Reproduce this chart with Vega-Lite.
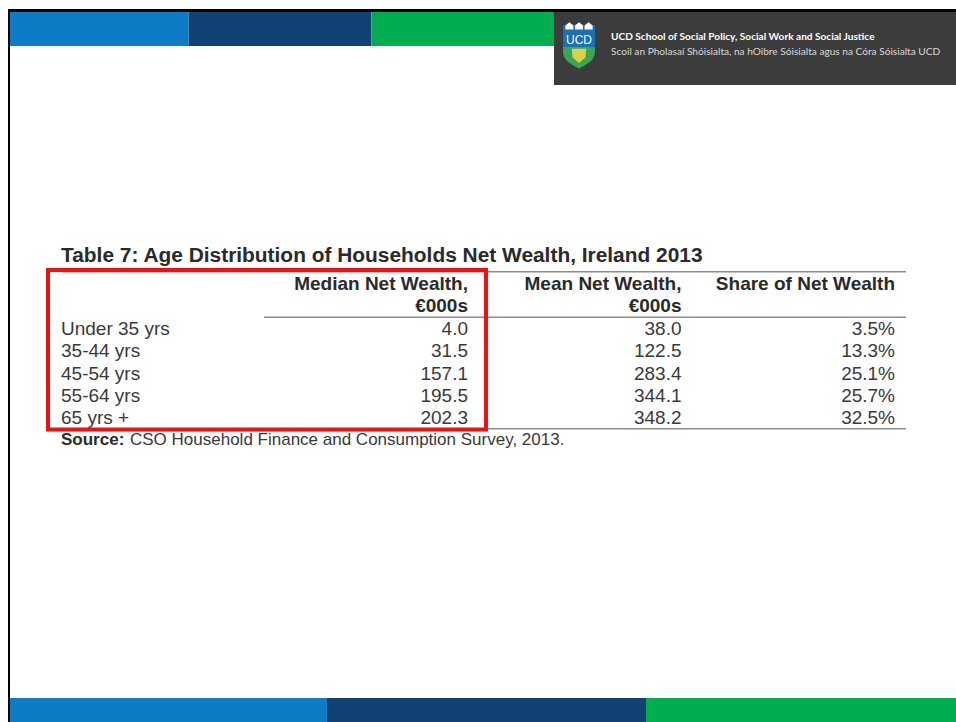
{"$schema":"https://vega.github.io/schema/vega-lite/v6.json","width":956,"height":722,"padding":0,"autosize":"none","background":"#ffffff","config":{"view":{"stroke":null},"axis":{"disable":true},"legend":{"disable":true},"text":{"font":"Liberation Sans"}},"resolve":{"scale":{"x":"independent","y":"independent","color":"independent","shape":"independent"}},"layer":[
{"data":{"values":[{"band":"blue","slot":"top"},{"band":"navy","slot":"top"},{"band":"green","slot":"top"}]},"mark":{"type":"rect"},"encoding":{"x":{"field":"band","type":"nominal","sort":null,"scale":{"type":"band","domain":["blue","navy","green"],"range":[6,554],"padding":0}},"y":{"field":"slot","type":"nominal","scale":{"type":"band","domain":["top"],"range":[12,46],"padding":0}},"color":{"field":"band","type":"nominal","scale":{"domain":["blue","navy","green"],"range":["#0d7cc4","#124174","#00ae4f"]}}}},
{"data":{"values":[{"band":"blue","slot":"bottom"},{"band":"navy","slot":"bottom"},{"band":"green","slot":"bottom"}]},"mark":{"type":"rect"},"encoding":{"x":{"field":"band","type":"nominal","sort":null,"scale":{"type":"band","domain":["blue","navy","green"],"range":[8,965],"padding":0}},"y":{"field":"slot","type":"nominal","scale":{"type":"band","domain":["bottom"],"range":[698,722],"padding":0}},"color":{"field":"band","type":"nominal","scale":{"domain":["blue","navy","green"],"range":["#0d7cc4","#124174","#00ae4f"]}}}},
{"data":{"values":[{"part":"margin"}]},"mark":{"type":"rect","color":"#ffffff"},"encoding":{"x":{"field":"part","type":"nominal","scale":{"type":"band","domain":["margin"],"range":[0,8],"padding":0}},"y":{"field":"part","type":"nominal","scale":{"type":"band","domain":["margin"],"range":[0,722],"padding":0}}}},
{"data":{"values":[{"part":"panel"}]},"mark":{"type":"rect","color":"#3c3c3c"},"encoding":{"x":{"field":"part","type":"nominal","scale":{"type":"band","domain":["panel"],"range":[554,956],"padding":0}},"y":{"field":"part","type":"nominal","scale":{"type":"band","domain":["panel"],"range":[12,85],"padding":0}}}},
{"data":{"values":[{"part":"frame top"}]},"mark":{"type":"rect","color":"#000000"},"encoding":{"x":{"field":"part","type":"nominal","scale":{"type":"band","domain":["frame top"],"range":[8,956],"padding":0}},"y":{"field":"part","type":"nominal","scale":{"type":"band","domain":["frame top"],"range":[9,12],"padding":0}}}},
{"data":{"values":[{"part":"frame left"}]},"mark":{"type":"rect","color":"#000000"},"encoding":{"x":{"field":"part","type":"nominal","scale":{"type":"band","domain":["frame left"],"range":[8,10],"padding":0}},"y":{"field":"part","type":"nominal","scale":{"type":"band","domain":["frame left"],"range":[9,722],"padding":0}}}},
{"data":{"values":[{"logo":"UCD crest","part":"shield"},{"logo":"UCD crest","part":"crest"},{"logo":"UCD crest","part":"harp"},{"logo":"UCD crest","part":"towers"}]},"mark":{"type":"point","filled":true,"opacity":1,"size":1024,"strokeWidth":0},"encoding":{"x":{"field":"logo","type":"nominal","scale":{"type":"point","domain":["UCD crest"],"range":[579,579],"padding":0}},"y":{"field":"logo","type":"nominal","scale":{"type":"point","domain":["UCD crest"],"range":[45.5,45.5],"padding":0}},"shape":{"field":"part","type":"nominal","scale":{"domain":["shield","crest","harp","towers"],"range":["M-1,-1.2 L1,-1.2 L1,0.4 C1,0.95 0.4,1.2 0,1.45 C-0.4,1.2 -1,0.95 -1,0.4 Z","M-1,-1.25 L-0.7,-1.3 L0.7,-1.3 L1,-1.25 L1,0.1 L-1,0.1 Z","M-0.45,0.2 L0.45,0.2 L0.4,0.75 L0,1.1 L-0.4,0.75 Z","M-0.85,-1 L-0.85,-1.25 L-0.6,-1.45 L-0.35,-1.25 L-0.35,-1 Z M-0.25,-1 L-0.25,-1.25 L0,-1.45 L0.25,-1.25 L0.25,-1 Z M0.35,-1 L0.35,-1.25 L0.6,-1.45 L0.85,-1.25 L0.85,-1 Z"]}},"color":{"field":"part","type":"nominal","scale":{"domain":["shield","crest","harp","towers"],"range":["#3aa655","#1a6fb5","#d8d24a","#ffffff"]}}}},
{"data":{"values":[{"line":"UCD"}]},"mark":{"type":"text","align":"center","baseline":"middle","font":"Liberation Sans","fontSize":12,"color":"#ffffff"},"encoding":{"x":{"field":"line","type":"nominal","scale":{"type":"point","domain":["UCD"],"range":[579,579],"padding":0}},"y":{"field":"line","type":"nominal","scale":{"type":"point","domain":["UCD"],"range":[40,40],"padding":0}},"text":{"field":"line"}}},
{"data":{"values":[{"line":"UCD School of Social Policy, Social Work and Social Justice"}]},"mark":{"type":"text","align":"left","baseline":"middle","font":"Lato","fontSize":10.1,"fontWeight":"bold","color":"#ffffff"},"encoding":{"x":{"field":"line","type":"nominal","scale":{"type":"point","domain":["UCD School of Social Policy, Social Work and Social Justice"],"range":[611,611],"padding":0}},"y":{"field":"line","type":"nominal","scale":{"type":"point","domain":["UCD School of Social Policy, Social Work and Social Justice"],"range":[37,37],"padding":0}},"text":{"field":"line"}}},
{"data":{"values":[{"line":"Scoil an Pholasaí Shóisialta, na hOibre Sóisialta agus na Córa Sóisialta UCD"}]},"mark":{"type":"text","align":"left","baseline":"middle","font":"Lato","fontSize":10.15,"color":"#d9d9d9"},"encoding":{"x":{"field":"line","type":"nominal","scale":{"type":"point","domain":["Scoil an Pholasaí Shóisialta, na hOibre Sóisialta agus na Córa Sóisialta UCD"],"range":[611,611],"padding":0}},"y":{"field":"line","type":"nominal","scale":{"type":"point","domain":["Scoil an Pholasaí Shóisialta, na hOibre Sóisialta agus na Córa Sóisialta UCD"],"range":[52,52],"padding":0}},"text":{"field":"line"}}},
{"data":{"values":[{"rule":"top"}]},"mark":{"type":"rect","color":"#8c8c8c"},"encoding":{"x":{"field":"rule","type":"nominal","scale":{"type":"band","domain":["top"],"range":[61,906],"padding":0}},"y":{"field":"rule","type":"nominal","scale":{"type":"band","domain":["top"],"range":[271,272.5],"padding":0}}}},
{"data":{"values":[{"rule":"header"}]},"mark":{"type":"rect","color":"#8c8c8c"},"encoding":{"x":{"field":"rule","type":"nominal","scale":{"type":"band","domain":["header"],"range":[264,906],"padding":0}},"y":{"field":"rule","type":"nominal","scale":{"type":"band","domain":["header"],"range":[316.5,318],"padding":0}}}},
{"data":{"values":[{"rule":"bottom"}]},"mark":{"type":"rect","color":"#8c8c8c"},"encoding":{"x":{"field":"rule","type":"nominal","scale":{"type":"band","domain":["bottom"],"range":[61,906],"padding":0}},"y":{"field":"rule","type":"nominal","scale":{"type":"band","domain":["bottom"],"range":[428,429.5],"padding":0}}}},
{"data":{"values":[{"text":"Table 7: Age Distribution of Households Net Wealth, Ireland 2013"}]},"mark":{"type":"text","align":"left","baseline":"middle","fontSize":20.9,"fontWeight":"bold","color":"#2a2a2a"},"encoding":{"x":{"field":"text","type":"nominal","scale":{"type":"point","domain":["Table 7: Age Distribution of Households Net Wealth, Ireland 2013"],"range":[61,61],"padding":0}},"y":{"field":"text","type":"nominal","scale":{"type":"point","domain":["Table 7: Age Distribution of Households Net Wealth, Ireland 2013"],"range":[256,256],"padding":0}},"text":{"field":"text"}}},
{"data":{"values":[{"column":"Median","line":"first","text":"Median Net Wealth,"},{"column":"Median","line":"second","text":"€000s"},{"column":"Mean","line":"first","text":"Mean Net Wealth,"},{"column":"Mean","line":"second","text":"€000s"},{"column":"Share","line":"first","text":"Share of Net Wealth"}]},"mark":{"type":"text","align":"right","baseline":"middle","fontSize":19,"fontWeight":"bold","color":"#2a2a2a"},"encoding":{"x":{"field":"column","type":"nominal","scale":{"type":"point","domain":["Median","Mean","Share"],"range":[468,895],"padding":0}},"y":{"field":"line","type":"nominal","scale":{"type":"point","domain":["first","second"],"range":[284,306],"padding":0}},"text":{"field":"text"}}},
{"data":{"values":[{"column":"Age","age":"Under 35 yrs"},{"column":"Age","age":"35-44 yrs"},{"column":"Age","age":"45-54 yrs"},{"column":"Age","age":"55-64 yrs"},{"column":"Age","age":"65 yrs +"}]},"mark":{"type":"text","align":"left","baseline":"middle","fontSize":19,"color":"#3a3a3a"},"encoding":{"x":{"field":"column","type":"nominal","scale":{"type":"point","domain":["Age"],"range":[61,61],"padding":0}},"y":{"field":"age","type":"nominal","sort":null,"scale":{"type":"point","domain":["Under 35 yrs","35-44 yrs","45-54 yrs","55-64 yrs","65 yrs +"],"range":[329,418],"padding":0}},"text":{"field":"age"}}},
{"data":{"values":[{"age":"Under 35 yrs","column":"Median","value":"4.0"},{"age":"35-44 yrs","column":"Median","value":"31.5"},{"age":"45-54 yrs","column":"Median","value":"157.1"},{"age":"55-64 yrs","column":"Median","value":"195.5"},{"age":"65 yrs +","column":"Median","value":"202.3"},{"age":"Under 35 yrs","column":"Mean","value":"38.0"},{"age":"35-44 yrs","column":"Mean","value":"122.5"},{"age":"45-54 yrs","column":"Mean","value":"283.4"},{"age":"55-64 yrs","column":"Mean","value":"344.1"},{"age":"65 yrs +","column":"Mean","value":"348.2"},{"age":"Under 35 yrs","column":"Share","value":"3.5%"},{"age":"35-44 yrs","column":"Share","value":"13.3%"},{"age":"45-54 yrs","column":"Share","value":"25.1%"},{"age":"55-64 yrs","column":"Share","value":"25.7%"},{"age":"65 yrs +","column":"Share","value":"32.5%"}]},"mark":{"type":"text","align":"right","baseline":"middle","fontSize":19,"color":"#3a3a3a"},"encoding":{"x":{"field":"column","type":"nominal","scale":{"type":"point","domain":["Median","Mean","Share"],"range":[468,895],"padding":0}},"y":{"field":"age","type":"nominal","sort":null,"scale":{"type":"point","domain":["Under 35 yrs","35-44 yrs","45-54 yrs","55-64 yrs","65 yrs +"],"range":[329,418],"padding":0}},"text":{"field":"value"}}},
{"data":{"values":[{"text":"Source:"}]},"mark":{"type":"text","align":"left","baseline":"middle","fontSize":17,"fontWeight":"bold","color":"#2a2a2a"},"encoding":{"x":{"field":"text","type":"nominal","scale":{"type":"point","domain":["Source:"],"range":[61,61],"padding":0}},"y":{"field":"text","type":"nominal","scale":{"type":"point","domain":["Source:"],"range":[440,440],"padding":0}},"text":{"field":"text"}}},
{"data":{"values":[{"text":"CSO Household Finance and Consumption Survey, 2013."}]},"mark":{"type":"text","align":"left","baseline":"middle","fontSize":17,"color":"#3a3a3a"},"encoding":{"x":{"field":"text","type":"nominal","scale":{"type":"point","domain":["CSO Household Finance and Consumption Survey, 2013."],"range":[130,130],"padding":0}},"y":{"field":"text","type":"nominal","scale":{"type":"point","domain":["CSO Household Finance and Consumption Survey, 2013."],"range":[440,440],"padding":0}},"text":{"field":"text"}}},
{"data":{"values":[{"part":"highlight"}]},"mark":{"type":"rect","fillOpacity":0,"stroke":"#ee1111","strokeWidth":4},"encoding":{"x":{"field":"part","type":"nominal","scale":{"type":"band","domain":["highlight"],"range":[48,486],"padding":0}},"y":{"field":"part","type":"nominal","scale":{"type":"band","domain":["highlight"],"range":[270,429.5],"padding":0}}}}
]}
